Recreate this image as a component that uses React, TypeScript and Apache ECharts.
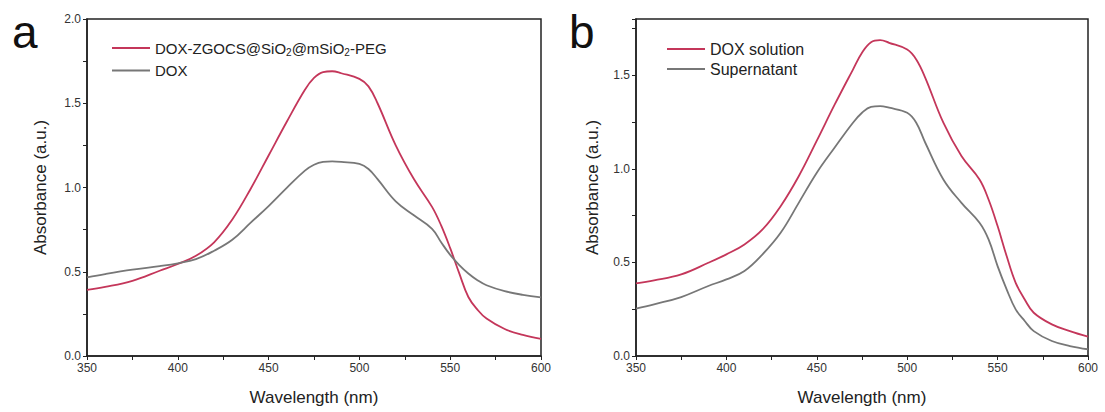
import React, { useEffect, useRef } from "react";
import * as echarts from "echarts";

const wavelengths = [350, 360, 375, 390, 400, 410, 420, 430, 440, 450, 460, 470, 475, 480, 485, 490, 500, 505, 510, 520, 530, 540, 545, 550, 555, 560, 565, 570, 580, 590, 600];

const aComposite = [0.393, 0.41, 0.446, 0.506, 0.546, 0.595, 0.675, 0.81, 0.99, 1.19, 1.39, 1.58, 1.65, 1.685, 1.69, 1.678, 1.645, 1.6, 1.5, 1.25, 1.05, 0.885, 0.775, 0.64, 0.49, 0.35, 0.275, 0.222, 0.16, 0.125, 0.102];
const aDox = [0.466, 0.486, 0.512, 0.533, 0.55, 0.575, 0.625, 0.69, 0.79, 0.89, 0.998, 1.1, 1.135, 1.152, 1.155, 1.152, 1.14, 1.11, 1.05, 0.918, 0.835, 0.755, 0.675, 0.6, 0.54, 0.49, 0.45, 0.42, 0.385, 0.363, 0.348];

const bSolution = [0.388, 0.404, 0.436, 0.498, 0.543, 0.596, 0.676, 0.8, 0.96, 1.15, 1.345, 1.53, 1.62, 1.676, 1.687, 1.673, 1.637, 1.584, 1.486, 1.246, 1.068, 0.943, 0.836, 0.694, 0.534, 0.391, 0.302, 0.231, 0.169, 0.133, 0.103];
const bSupernatant = [0.253, 0.276, 0.315, 0.374, 0.409, 0.454, 0.543, 0.658, 0.818, 0.979, 1.115, 1.246, 1.299, 1.331, 1.335, 1.326, 1.299, 1.246, 1.139, 0.943, 0.818, 0.712, 0.623, 0.48, 0.356, 0.249, 0.187, 0.133, 0.08, 0.053, 0.036];

const xTicks = [350, 400, 450, 500, 550, 600];
const yTicks = [0, 0.5, 1.0, 1.5, 2.0];

const nameA1 = "DOX-ZGOCS@SiO2@mSiO2-PEG";
const nameA2 = "DOX";
const nameB1 = "DOX solution";
const nameB2 = "Supernatant";

const RED = "#C4365A";
const GRAY = "#777777";
const AXIS = "#222222";
const FONT = "Liberation Sans, Arial, sans-serif";

const pair = (ys: number[]) => wavelengths.map((x, i) => [x, ys[i]]);

export default function App() {
  const ref = useRef<HTMLDivElement>(null);
  useEffect(() => {
    if (!ref.current) return;
    const chart = echarts.init(ref.current, undefined, { renderer: "svg" });

    const xAxis = (gridIndex: number) => ({
      type: "value",
      gridIndex,
      min: 350,
      max: 600,
      interval: 25,
      name: "Wavelength (nm)",
      nameLocation: "middle",
      nameGap: 33,
      nameTextStyle: { fontSize: 17, color: "#222", fontFamily: FONT },
      axisLine: { show: true, lineStyle: { color: AXIS, width: 1.5 } },
      axisTick: { show: true, inside: false, length: 4, lineStyle: { color: AXIS, width: 1 } },
      axisLabel: {
        fontSize: 12,
        color: "#333",
        fontFamily: FONT,
        margin: 6,
        formatter: (v: number) => (xTicks.includes(v) ? String(v) : ""),
      },
      splitLine: { show: false },
    });

    const yAxis = (gridIndex: number, max: number, gap: number) => ({
      type: "value",
      gridIndex,
      min: 0,
      max,
      interval: 0.25,
      name: "Absorbance (a.u.)",
      nameLocation: "middle",
      nameGap: gap,
      nameTextStyle: { fontSize: 17, color: "#222", fontFamily: FONT },
      axisLine: { show: true, lineStyle: { color: AXIS, width: 1.5 } },
      axisTick: { show: true, inside: false, length: 4, lineStyle: { color: AXIS, width: 1 } },
      axisLabel: {
        fontSize: 12,
        color: "#333",
        fontFamily: FONT,
        margin: 6,
        formatter: (v: number) =>
          yTicks.some((t) => Math.abs(t - v) < 1e-6) && v <= max ? v.toFixed(1) : "",
      },
      splitLine: { show: false },
    });

    const subRich = {
      t: { fontSize: 15, color: "#222", fontFamily: FONT, lineHeight: 18 },
      sub: { fontSize: 10, color: "#222", fontFamily: FONT, lineHeight: 18, verticalAlign: "bottom", padding: [9, 0, 0, 0] },
    };

    const option = {
      animation: false,
      grid: [
        { left: 87, right: 564, top: 19, bottom: 56, show: true, borderColor: AXIS, borderWidth: 1.5 },
        { left: 636, right: 17, top: 19, bottom: 56, show: true, borderColor: AXIS, borderWidth: 1.5 },
      ],
      xAxis: [xAxis(0), xAxis(1)],
      yAxis: [yAxis(0, 2.0, 38), yAxis(1, 1.8, 35)],
      legend: [
        {
          data: [nameA1, nameA2],
          orient: "vertical",
          left: 107,
          top: 33,
          icon: "rect",
          itemWidth: 38,
          itemHeight: 2,
          itemGap: 6,
          textStyle: { fontSize: 15, color: "#222", fontFamily: FONT, rich: subRich },
          formatter: (n: string) =>
            n === nameA1 ? "{t|DOX-ZGOCS@SiO}{sub|2}{t|@mSiO}{sub|2}{t|-PEG}" : "{t|" + n + "}",
        },
        {
          data: [nameB1, nameB2],
          orient: "vertical",
          left: 662,
          top: 35,
          icon: "rect",
          itemWidth: 38,
          itemHeight: 2,
          itemGap: 2,
          textStyle: { fontSize: 16, color: "#222", fontFamily: FONT, lineHeight: 18 },
        },
      ],
      series: [
        { name: nameA1, type: "line", xAxisIndex: 0, yAxisIndex: 0, data: pair(aComposite), smooth: 0.4, symbol: "none", lineStyle: { color: RED, width: 1.8 }, itemStyle: { color: RED } },
        { name: nameA2, type: "line", xAxisIndex: 0, yAxisIndex: 0, data: pair(aDox), smooth: 0.4, symbol: "none", lineStyle: { color: GRAY, width: 1.8 }, itemStyle: { color: GRAY } },
        { name: nameB1, type: "line", xAxisIndex: 1, yAxisIndex: 1, data: pair(bSolution), smooth: 0.4, symbol: "none", lineStyle: { color: RED, width: 1.8 }, itemStyle: { color: RED } },
        { name: nameB2, type: "line", xAxisIndex: 1, yAxisIndex: 1, data: pair(bSupernatant), smooth: 0.4, symbol: "none", lineStyle: { color: GRAY, width: 1.8 }, itemStyle: { color: GRAY } },
      ],
      graphic: [
        { type: "text", left: 12, top: 9, style: { text: "a", fontSize: 46, fill: "#111", fontFamily: FONT } },
        { type: "text", left: 569, top: 9, style: { text: "b", fontSize: 46, fill: "#111", fontFamily: FONT } },
      ],
    };
    chart.setOption(option as any);
    return () => chart.dispose();
  }, []);
  return (
    <div
      ref={ref}
      style={{ position: "fixed", left: 0, top: 0, width: 1105, height: 412, background: "#fff" }}
    />
  );
}
